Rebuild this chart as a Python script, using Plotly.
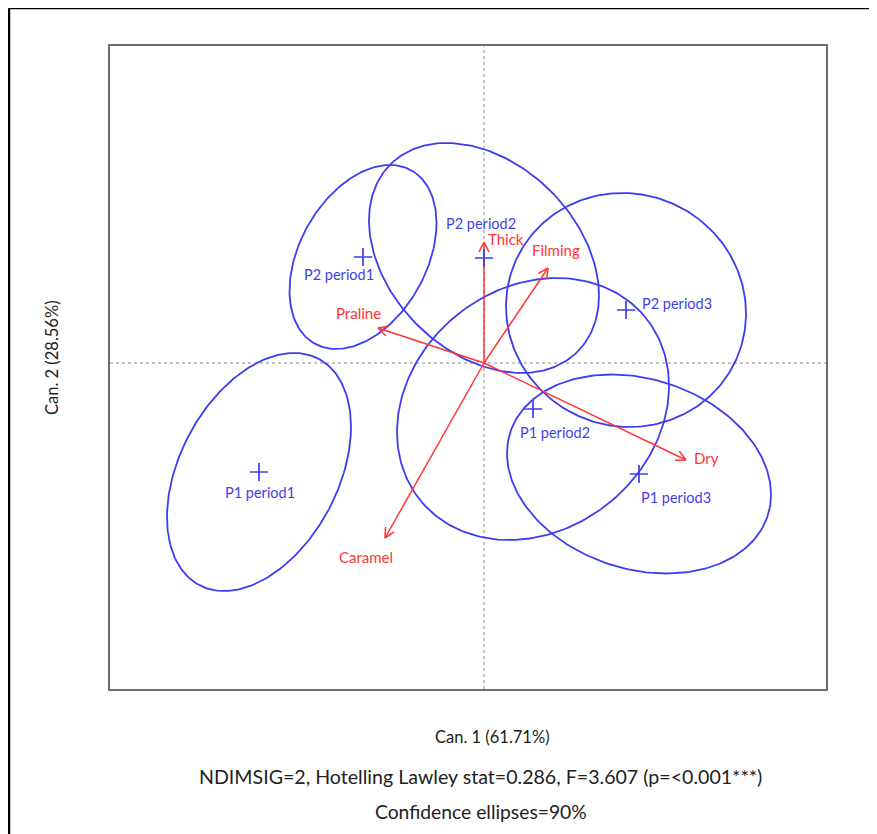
import numpy as np
import plotly.graph_objects as go

# ---------------- data ----------------
groups = ["P1 period1", "P2 period1", "P2 period2", "P2 period3", "P1 period2", "P1 period3"]
group_can1 = [-2.25, -1.21, 0.00, 1.42, 0.49, 1.55]
group_can2 = [-1.09, 1.06, 1.05, 0.53, -0.46, -1.11]
# confidence ellipse (90%) half-extents along Can.1 / Can.2 and correlation
ellipse_sx = [0.92, 0.735, 1.15, 1.20, 1.36, 1.32]
ellipse_sy = [1.19, 0.92, 1.15, 1.17, 1.31, 0.995]
ellipse_rho = [0.38, 0.367, -0.325, -0.03, 0.176, -0.207]

attributes = ["Thick", "Filming", "Praline", "Dry", "Caramel"]
attr_can1 = [0.00, 0.64, -1.06, 2.02, -0.99]
attr_can2 = [1.21, 0.95, 0.35, -0.97, -1.75]

x_title = "Can. 1 (61.71%)"
y_title = "Can. 2 (28.56%)"
stat_text = "NDIMSIG=2, Hotelling Lawley stat=0.286, F=3.607 (p=<0.001***)"
conf_text = "Confidence ellipses=90%"

# ---------------- styles / layout ----------------
OFF = 8                      # page body margin
W, H = 877 - OFF, 834 - OFF  # figure size
ML, MT = 110 - OFF, 46 - OFF
MR = W - (826 - OFF)
MB = H - (689 - OFF)
XR = [-3.74, 3.42]
YR = [-3.26, 3.17]
BLUE = "#3c3cf2"
BLUE_TXT = "#3f3fe6"
RED = "#ff3434"
FONT = "Lato"

# label offsets in pixels (xshift, yshift, xanchor)
group_label_style = [(1, -20, "center"), (-24, -17, "center"), (-3, 35, "center"),
                     (14, 7, "left"), (22, -23, "center"), (37, -23, "center")]
attr_label_style = [(2, 3, "left"), (8, 18, "center"), (-20, 15, "center"),
                    (6, 2, "left"), (-19, -19, "center")]

pw, ph = W - ML - MR, H - MT - MB


def px_to_paper(px, py):
    """page pixel -> paper coordinates"""
    px, py = px - OFF, py - OFF
    return (px - ML) / pw, (H - MB - py) / ph


fig = go.Figure()

# ellipses
t = np.linspace(0, 2 * np.pi, 241)
for cx, cy, sx, sy, r in zip(group_can1, group_can2, ellipse_sx, ellipse_sy, ellipse_rho):
    ex = cx + sx * np.cos(t)
    ey = cy + sy * (r * np.cos(t) + np.sqrt(1 - r * r) * np.sin(t))
    fig.add_trace(go.Scatter(x=ex, y=ey, mode="lines", line=dict(color=BLUE, width=1.8),
                             hoverinfo="skip", showlegend=False))

# arrows (shafts + open heads)
ax_, ay_ = [], []
L, ang = 0.11, np.deg2rad(27)
for x1, y1 in zip(attr_can1, attr_can2):
    ax_ += [0, x1, None]
    ay_ += [0, y1, None]
    n = np.hypot(x1, y1)
    ux, uy = x1 / n, y1 / n
    for s in (ang, -ang):
        rx = ux * np.cos(s) - uy * np.sin(s)
        ry = ux * np.sin(s) + uy * np.cos(s)
        ax_ += [x1 - L * rx, x1, None]
        ay_ += [y1 - L * ry, y1, None]
fig.add_trace(go.Scatter(x=ax_, y=ay_, mode="lines", line=dict(color=RED, width=1.5),
                         hoverinfo="skip", showlegend=False))

# group centroids
fig.add_trace(go.Scatter(x=group_can1, y=group_can2, mode="markers",
                         marker=dict(symbol="cross-thin", size=13,
                                     line=dict(color=BLUE, width=1.7)),
                         showlegend=False))

ann = []
for g, x, y, (dx, dy, xa) in zip(groups, group_can1, group_can2, group_label_style):
    ann.append(dict(x=x, y=y, xref="x", yref="y", text=g, showarrow=False,
                    xshift=dx, yshift=dy, xanchor=xa, yanchor="middle",
                    font=dict(family=FONT, size=14.5, color=BLUE_TXT)))
for a, x, y, (dx, dy, xa) in zip(attributes, attr_can1, attr_can2, attr_label_style):
    ann.append(dict(x=x, y=y, xref="x", yref="y", text=a, showarrow=False,
                    xshift=dx, yshift=dy, xanchor=xa, yanchor="middle",
                    font=dict(family=FONT, size=15, color=RED)))

for txt, (px, py), size, rot in [(x_title, (492, 737), 16.5, 0),
                                 (stat_text, (480, 776), 19.6, 0),
                                 (conf_text, (481, 811), 19.3, 0),
                                 (y_title, (52, 358), 16.5, -90)]:
    xp, yp = px_to_paper(px, py)
    ann.append(dict(x=xp, y=yp, xref="paper", yref="paper", text=txt, showarrow=False,
                    xanchor="center", yanchor="middle", textangle=rot,
                    font=dict(family=FONT, size=size, color="#222222")))

shapes = [
    dict(type="line", xref="x", yref="paper", x0=0, x1=0, y0=0, y1=1,
         line=dict(color="#8a8a8a", width=1, dash="dot"), layer="below"),
    dict(type="line", xref="paper", yref="y", x0=0, x1=1, y0=0, y1=0,
         line=dict(color="#8a8a8a", width=1, dash="dot"), layer="below"),
]
bx0, by0 = px_to_paper(9, 8)
bx1, by1 = px_to_paper(877 + 30, 834 + 30)
shapes.append(dict(type="rect", xref="paper", yref="paper", x0=bx0, y0=by1, x1=bx1, y1=by0,
                   line=dict(color="black", width=2.5), fillcolor="rgba(0,0,0,0)"))

axis_common = dict(showgrid=False, zeroline=False, showticklabels=False, ticks="",
                   showline=True, mirror=True, linecolor="#6e6e6e", linewidth=2)
fig.update_layout(
    width=W, height=H,
    margin=dict(l=ML, r=MR, t=MT, b=MB, pad=0),
    paper_bgcolor="white", plot_bgcolor="white",
    xaxis=dict(range=XR, **axis_common),
    yaxis=dict(range=YR, **axis_common),
    annotations=ann, shapes=shapes, showlegend=False,
)

fig.write_html("out.html")
